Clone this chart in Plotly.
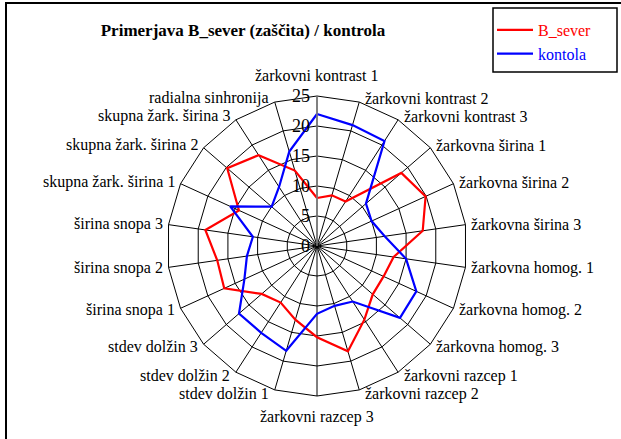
import math
import plotly.graph_objects as go

categories = [
    "žarkovni kontrast 1", "žarkovni kontrast 2", "žarkovni kontrast 3",
    "žarkovna širina 1", "žarkovna širina 2", "žarkovna širina 3",
    "žarkovna homog. 1", "žarkovna homog. 2", "žarkovna homog. 3",
    "žarkovni razcep 1", "žarkovni razcep 2", "žarkovni razcep 3",
    "stdev dolžin 1", "stdev dolžin 2", "stdev dolžin 3",
    "širina snopa 1", "širina snopa 2", "širina snopa 3",
    "skupna žark. širina 1", "skupna žark. širina 2", "skupna žark. širina 3",
    "radialna sinhronija",
]
b_sever = [8.0, 8.8, 8.8, 18.6, 19.9, 17.8, 12.9, 12.2, 12.3, 14.6, 18.3,
           15.2, 12.8, 11.2, 12.2, 17.0, 16.8, 18.8, 14.3, 19.8, 18.0, 13.1]
kontola = [22.0, 21.0, 20.8, 10.8, 10.0, 11.4, 15.0, 18.2, 18.3, 11.0, 10.4,
           11.3, 18.2, 17.2, 17.2, 13.3, 11.8, 10.8, 15.9, 10.0, 11.7, 16.4]
radial_ticks = [0, 5, 10, 15, 20, 25]

W, H = 621, 439
FONT = "Liberation Serif"

fig = go.Figure()
fig.add_trace(go.Scatterpolar(
    r=b_sever + b_sever[:1], theta=categories + categories[:1],
    mode="lines", line=dict(color="#ff0000", width=2.2),
    name="<span style='color:#ff0000'>B_sever</span>"))
fig.add_trace(go.Scatterpolar(
    r=kontola + kontola[:1], theta=categories + categories[:1],
    mode="lines", line=dict(color="#0000ff", width=2.2),
    name="<span style='color:#0000ff'>kontola</span>"))

# polar centre at (317, 246) px, outer radius 150 px
cx, cy, rad = 317, 246, 150

# category labels placed next to the outer polygon vertices, Excel style
labels = []
n = len(categories)
for i, name in enumerate(categories):
    a = 2 * math.pi * i / n
    vx = cx + rad * math.sin(a)
    vy = cy - rad * math.cos(a)
    if i == 0:
        x, y, xa, ya = vx, vy - 10, "center", "bottom"
    elif 2 * i == n:
        x, y, xa, ya = vx, vy + 10, "center", "top"
    elif 2 * i < n:
        x, y, xa, ya = vx + 4, vy - 4 * math.cos(a), "left", "middle"
    else:
        x, y, xa, ya = vx - 4, vy - 4 * math.cos(a), "right", "middle"
    labels.append(dict(text=name, x=x / W, y=1 - y / H, xref="paper",
                       yref="paper", xanchor=xa, yanchor=ya, showarrow=False,
                       font=dict(family=FONT, size=16, color="black")))

fig.update_layout(
    width=W, height=H,
    margin=dict(l=0, r=0, t=0, b=0),
    paper_bgcolor="white",
    font=dict(family=FONT, color="black", size=16),
    showlegend=True,
    title=dict(text="<b>Primerjava B_sever (zaščita) / kontrola</b>",
               x=243 / W, y=1 - 30 / H, xanchor="center", yanchor="middle",
               font=dict(family=FONT, size=17, color="black")),
    legend=dict(x=492 / W, y=1 - 13 / H, xanchor="left", yanchor="top",
                bgcolor="rgba(0,0,0,0)", borderwidth=0,
                font=dict(family=FONT, size=16), itemwidth=36,
                tracegroupgap=0),
    polar=dict(
        domain=dict(x=[(cx - rad) / W, (cx + rad) / W],
                    y=[(H - cy - rad) / H, (H - cy + rad) / H]),
        gridshape="linear",
        bgcolor="white",
        radialaxis=dict(range=[0, 25], tickvals=radial_ticks, angle=90,
                        side="counterclockwise", tickangle=90,
                        showline=True, linecolor="#808080", linewidth=1.5,
                        gridcolor="black", gridwidth=1, ticks="",
                        tickfont=dict(family=FONT, size=18, color="black")),
        angularaxis=dict(rotation=90, direction="clockwise",
                         showline=True, linecolor="black", linewidth=1,
                         gridcolor="black", gridwidth=1, ticks="",
                         showticklabels=False),
    ),
    annotations=labels,
    shapes=[
        dict(type="rect", xref="paper", yref="paper",
             x0=6 / W, x1=1.05, y0=-0.05, y1=1 - 3 / H,
             line=dict(color="black", width=2)),
        dict(type="rect", xref="paper", yref="paper",
             x0=493 / W, x1=617 / W, y0=1 - 72 / H, y1=1 - 8 / H,
             line=dict(color="black", width=1.5), fillcolor="rgba(0,0,0,0)"),
    ],
)

fig.write_html("out.html", config={"displayModeBar": False},
               post_script="document.body.style.margin='0px';")
